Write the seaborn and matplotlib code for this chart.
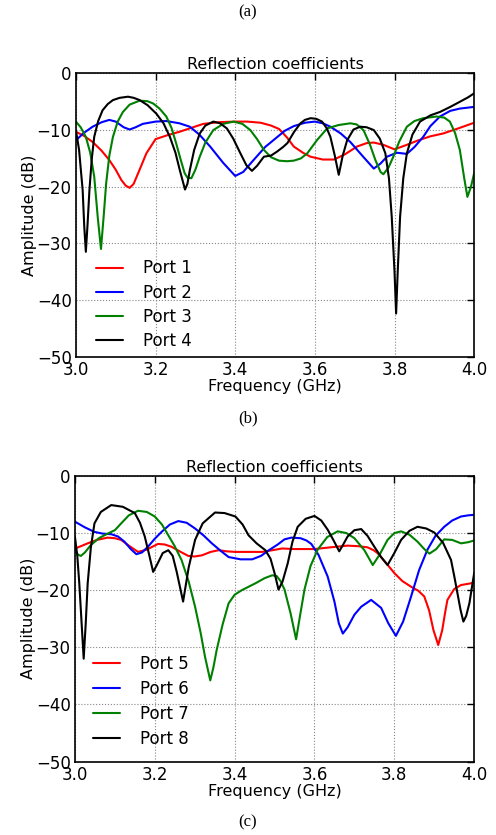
import numpy as np
import pandas as pd
import matplotlib
matplotlib.use('Agg')
import matplotlib.pyplot as plt
import seaborn as sns

# ports 1-4 (GHz, dB)
p1_x = [3.0, 3.02, 3.042, 3.064, 3.084, 3.1, 3.114, 3.125, 3.135, 3.145, 3.16, 3.177, 3.2, 3.23, 3.26, 3.29, 3.32, 3.36, 3.4, 3.43, 3.464, 3.49, 3.51, 3.53, 3.547, 3.57, 3.589, 3.62, 3.648, 3.675, 3.706, 3.73, 3.748, 3.772, 3.8, 3.831, 3.86, 3.89, 3.922, 3.96, 4.0]
p1_y = [-10.3, -11.0, -12.1, -13.6, -15.3, -17.0, -18.8, -19.8, -20.2, -19.5, -17.0, -14.1, -11.6, -10.9, -10.3, -9.6, -8.9, -8.6, -8.5, -8.5, -8.7, -9.2, -9.8, -11.3, -12.9, -14.0, -14.7, -15.2, -15.2, -14.3, -12.9, -12.3, -12.2, -12.6, -13.4, -12.6, -11.8, -11.1, -10.6, -9.7, -8.7]

p2_x = [3.0, 3.02, 3.042, 3.065, 3.084, 3.1, 3.12, 3.135, 3.15, 3.168, 3.2, 3.227, 3.26, 3.286, 3.31, 3.337, 3.37, 3.4, 3.42, 3.446, 3.475, 3.506, 3.525, 3.547, 3.575, 3.6, 3.62, 3.639, 3.665, 3.689, 3.72, 3.748, 3.765, 3.781, 3.806, 3.831, 3.85, 3.872, 3.89, 3.914, 3.94, 3.964, 4.0]
p2_y = [-11.8, -10.5, -9.4, -8.6, -8.2, -8.5, -9.5, -9.9, -9.5, -8.9, -8.5, -8.4, -8.8, -9.4, -10.8, -12.9, -15.8, -18.1, -17.4, -15.3, -13.0, -11.2, -10.1, -9.3, -8.7, -8.5, -8.8, -9.4, -10.6, -12.1, -14.6, -16.8, -15.9, -14.7, -14.0, -14.2, -13.0, -11.2, -9.3, -7.6, -6.6, -6.2, -5.9]

p3_x = [3.0, 3.012, 3.025, 3.036, 3.046, 3.055, 3.063, 3.07, 3.076, 3.084, 3.093, 3.105, 3.118, 3.135, 3.16, 3.18, 3.194, 3.21, 3.227, 3.24, 3.252, 3.263, 3.273, 3.28, 3.29, 3.3, 3.311, 3.325, 3.345, 3.37, 3.396, 3.418, 3.438, 3.455, 3.472, 3.49, 3.51, 3.53, 3.547, 3.565, 3.581, 3.605, 3.631, 3.66, 3.689, 3.705, 3.722, 3.738, 3.752, 3.765, 3.772, 3.785, 3.797, 3.812, 3.831, 3.85, 3.872, 3.906, 3.925, 3.939, 3.952, 3.964, 3.975, 3.983, 3.992, 4.0]
p3_y = [-8.5, -9.5, -11.2, -14.0, -18.2, -25.5, -31.0, -25.0, -19.4, -14.5, -11.2, -8.5, -6.8, -5.5, -4.8, -4.9, -5.3, -6.2, -7.6, -9.6, -12.4, -15.2, -17.6, -18.4, -18.5, -17.0, -14.7, -12.2, -10.0, -8.9, -8.5, -8.9, -10.0, -11.6, -13.5, -14.8, -15.4, -15.5, -15.4, -15.0, -14.1, -11.8, -9.7, -9.1, -8.8, -9.0, -10.0, -12.5, -15.3, -17.4, -17.8, -16.6, -14.7, -12.0, -9.4, -8.4, -7.9, -7.6, -7.8, -8.5, -10.5, -13.5, -18.5, -21.8, -20.0, -17.6]

p4_x = [3.0, 3.008, 3.017, 3.021, 3.025, 3.029, 3.034, 3.04, 3.046, 3.056, 3.067, 3.08, 3.093, 3.11, 3.131, 3.145, 3.16, 3.18, 3.202, 3.22, 3.236, 3.25, 3.261, 3.274, 3.28, 3.286, 3.297, 3.311, 3.325, 3.345, 3.362, 3.379, 3.395, 3.413, 3.428, 3.442, 3.455, 3.472, 3.49, 3.505, 3.52, 3.531, 3.548, 3.564, 3.575, 3.589, 3.603, 3.618, 3.63, 3.639, 3.65, 3.66, 3.67, 3.681, 3.697, 3.714, 3.73, 3.748, 3.763, 3.777, 3.786, 3.793, 3.8, 3.804, 3.808, 3.814, 3.822, 3.831, 3.845, 3.864, 3.89, 3.914, 3.94, 3.964, 3.985, 4.0]
p4_y = [-10.0, -13.5, -20.6, -27.0, -31.5, -27.0, -20.6, -15.0, -11.2, -8.4, -6.5, -5.4, -4.7, -4.3, -4.1, -4.3, -4.7, -5.6, -7.1, -8.8, -11.2, -14.0, -17.1, -20.5, -19.5, -17.1, -13.5, -10.6, -9.2, -8.5, -8.8, -9.7, -11.5, -14.1, -16.2, -17.2, -16.3, -14.7, -14.5, -13.8, -13.0, -12.3, -10.3, -8.8, -8.2, -7.9, -8.0, -8.5, -9.7, -11.2, -14.5, -17.9, -14.5, -11.8, -9.9, -9.4, -9.5, -10.0, -11.5, -14.1, -18.5, -25.3, -35.0, -42.4, -35.0, -25.3, -18.5, -14.1, -10.8, -8.5, -7.4, -6.8, -5.9, -5.0, -4.2, -3.5]

# ports 5-8 (GHz, dB)
p5_x = [3.0, 3.015, 3.032, 3.055, 3.082, 3.1, 3.116, 3.135, 3.158, 3.18, 3.208, 3.225, 3.242, 3.265, 3.284, 3.3, 3.318, 3.34, 3.36, 3.38, 3.402, 3.44, 3.469, 3.495, 3.519, 3.55, 3.6, 3.64, 3.683, 3.71, 3.733, 3.748, 3.758, 3.78, 3.8, 3.82, 3.842, 3.86, 3.875, 3.887, 3.898, 3.91, 3.92, 3.927, 3.933, 3.95, 3.967, 4.0]
p5_y = [-12.7, -12.3, -11.8, -11.2, -10.8, -10.9, -11.2, -12.2, -13.3, -12.9, -11.9, -12.0, -12.4, -13.3, -14.0, -14.1, -13.9, -13.3, -13.0, -13.2, -13.3, -13.3, -13.3, -13.0, -12.7, -12.8, -12.8, -12.5, -12.2, -12.3, -12.5, -13.0, -13.5, -15.3, -17.0, -18.4, -19.4, -20.1, -21.1, -23.5, -27.0, -29.6, -27.0, -24.0, -21.7, -19.8, -19.1, -18.7]

p6_x = [3.0, 3.025, 3.049, 3.07, 3.091, 3.108, 3.124, 3.14, 3.154, 3.168, 3.183, 3.2, 3.217, 3.238, 3.259, 3.28, 3.301, 3.322, 3.343, 3.365, 3.385, 3.415, 3.444, 3.466, 3.486, 3.508, 3.525, 3.542, 3.565, 3.58, 3.592, 3.61, 3.633, 3.65, 3.661, 3.671, 3.683, 3.7, 3.717, 3.742, 3.767, 3.785, 3.804, 3.822, 3.842, 3.862, 3.883, 3.903, 3.925, 3.945, 3.967, 3.985, 4.0]
p6_y = [-8.0, -9.0, -9.8, -10.1, -10.2, -10.6, -11.5, -12.8, -13.7, -13.4, -12.4, -11.0, -9.8, -8.5, -7.9, -8.2, -9.2, -10.4, -11.8, -13.1, -14.2, -14.6, -14.6, -14.0, -13.0, -12.0, -11.1, -10.8, -10.9, -11.3, -11.9, -13.8, -17.6, -22.0, -25.8, -27.6, -26.5, -24.3, -22.9, -21.7, -23.1, -25.8, -28.0, -25.5, -21.1, -16.5, -12.9, -10.5, -8.9, -7.8, -7.1, -6.9, -6.8]

p7_x = [3.0, 3.008, 3.015, 3.025, 3.04, 3.06, 3.082, 3.1, 3.116, 3.135, 3.158, 3.18, 3.2, 3.218, 3.234, 3.25, 3.267, 3.285, 3.301, 3.315, 3.326, 3.339, 3.347, 3.355, 3.37, 3.385, 3.4, 3.418, 3.435, 3.452, 3.475, 3.494, 3.505, 3.515, 3.525, 3.54, 3.554, 3.565, 3.575, 3.59, 3.608, 3.632, 3.658, 3.68, 3.7, 3.725, 3.746, 3.763, 3.783, 3.8, 3.817, 3.838, 3.858, 3.875, 3.888, 3.905, 3.925, 3.945, 3.967, 3.985, 4.0]
p7_y = [-13.0, -13.8, -14.0, -13.4, -12.1, -10.9, -10.1, -9.5, -8.3, -6.9, -6.1, -6.3, -7.1, -8.5, -10.4, -12.3, -14.7, -18.5, -22.9, -27.5, -31.7, -35.8, -33.5, -30.5, -26.0, -22.3, -20.8, -20.0, -19.4, -18.8, -17.9, -17.4, -17.5, -18.4, -19.9, -24.0, -28.6, -24.0, -19.9, -15.8, -12.9, -10.7, -9.7, -10.0, -10.9, -13.0, -15.6, -13.8, -11.2, -10.0, -9.7, -10.3, -11.5, -12.8, -13.6, -12.8, -11.1, -11.2, -11.8, -11.6, -11.3]

p8_x = [3.0, 3.006, 3.011, 3.017, 3.022, 3.027, 3.032, 3.04, 3.049, 3.065, 3.091, 3.12, 3.15, 3.163, 3.175, 3.186, 3.196, 3.206, 3.22, 3.234, 3.245, 3.255, 3.271, 3.285, 3.301, 3.32, 3.351, 3.375, 3.402, 3.42, 3.435, 3.455, 3.477, 3.49, 3.5, 3.51, 3.52, 3.533, 3.545, 3.558, 3.578, 3.6, 3.617, 3.633, 3.648, 3.662, 3.672, 3.683, 3.7, 3.717, 3.733, 3.75, 3.767, 3.783, 3.8, 3.817, 3.838, 3.858, 3.88, 3.9, 3.922, 3.942, 3.95, 3.958, 3.966, 3.973, 3.98, 3.988, 4.0]
p8_y = [-10.6, -14.0, -18.8, -26.0, -32.0, -26.0, -18.8, -12.5, -8.3, -6.3, -5.1, -5.4, -6.5, -8.2, -10.6, -13.8, -16.8, -15.5, -13.5, -13.0, -14.0, -16.8, -22.0, -16.0, -11.2, -8.3, -6.4, -6.5, -7.1, -8.5, -10.4, -11.8, -13.0, -14.5, -17.0, -19.9, -18.5, -15.3, -11.5, -8.9, -7.5, -7.0, -7.8, -9.4, -11.3, -13.2, -12.0, -10.6, -9.5, -9.3, -10.5, -12.4, -14.2, -15.6, -13.5, -11.2, -9.6, -8.9, -9.2, -9.9, -11.7, -14.7, -17.5, -20.5, -23.5, -25.5, -24.5, -22.3, -17.0]

top_ports = {'Port 1': (p1_x, p1_y), 'Port 2': (p2_x, p2_y), 'Port 3': (p3_x, p3_y), 'Port 4': (p4_x, p4_y)}
bottom_ports = {'Port 5': (p5_x, p5_y), 'Port 6': (p6_x, p6_y), 'Port 7': (p7_x, p7_y), 'Port 8': (p8_x, p8_y)}
colors = ['#ff0000', '#0000ff', '#008000', '#000000']

x_ticks = [3.0, 3.2, 3.4, 3.6, 3.8, 4.0]
y_ticks = [0, -10, -20, -30, -40, -50]

sns.set_style('white')
plt.rcParams['font.family'] = ['DejaVu Sans']
plt.rcParams['axes.unicode_minus'] = True
plt.rcParams['text.color'] = 'black'
plt.rcParams['axes.labelcolor'] = 'black'
plt.rcParams['xtick.color'] = 'black'
plt.rcParams['ytick.color'] = 'black'

fig = plt.figure(figsize=(4.96, 8.35), dpi=100)
ax1 = fig.add_axes([0.153, 0.573, 0.803, 0.339])
ax2 = fig.add_axes([0.151, 0.088, 0.805, 0.342])


def draw(ax, ports, pad, spacing, anchor_x):
    for (name, (xs, ys)), c in zip(ports.items(), colors):
        df = pd.DataFrame({'f': xs, 'db': ys})
        sns.lineplot(data=df, x='f', y='db', ax=ax, color=c, linewidth=1.5, label=name)
    for ln in ax.get_lines():
        ln.set_solid_joinstyle('round')
    ax.set_xlim(3.0, 4.0)
    ax.set_ylim(-50, 0)
    ax.set_xticks(x_ticks)
    ax.set_yticks(y_ticks)
    ax.tick_params(direction='in', length=5, width=1, top=True, right=True, labelsize=12, pad=3)
    ax.grid(True, linestyle=':', color='#888888', linewidth=0.8)
    for s in ax.spines.values():
        s.set_color('black')
        s.set_linewidth(1.2)
    ax.set_xlabel('Frequency (GHz)', fontsize=11.5, labelpad=0)
    ax.set_ylabel('Amplitude (dB)', fontsize=11.5, labelpad=0)
    ax.set_title('Reflection coefficients', fontsize=11.5, pad=3)
    ax.legend(loc='lower left', frameon=False, fontsize=12, handlelength=1.6,
              handletextpad=1.2, labelspacing=spacing, borderaxespad=pad,
              bbox_to_anchor=(anchor_x, 0.0))


draw(ax1, top_ports, 0.0, 0.37, 0.035)
draw(ax2, bottom_ports, 0.4, 0.42, 0.012)

serif = ['Liberation Serif', 'DejaVu Serif']
fig.text(0.5, 1 - 12 / 835, '(a)', ha='center', va='center', fontsize=12, family=serif)
fig.text(0.5, 1 - 418 / 835, '(b)', ha='center', va='center', fontsize=12, family=serif)
fig.text(0.5, 1 - 822 / 835, '(c)', ha='center', va='center', fontsize=12, family=serif)

fig.savefig('out.png', dpi=100)
